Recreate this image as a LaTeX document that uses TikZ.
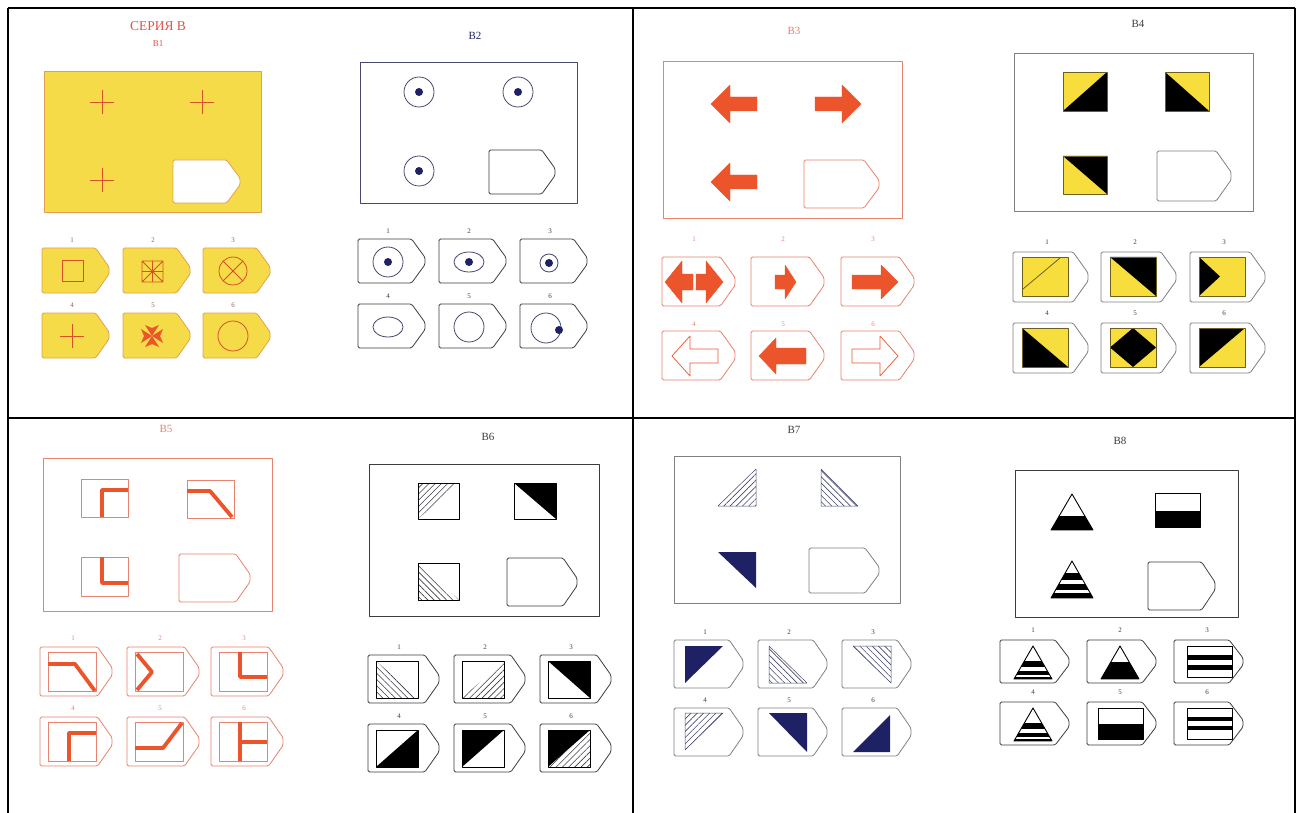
\documentclass[tikz,border=0pt]{standalone}
\usepackage{fontspec}
\setmainfont{Liberation Serif}
\usetikzlibrary{patterns.meta}

\definecolor{ylwfill}{RGB}{245,219,72}
\definecolor{ylwedge}{RGB}{226,160,80}
\definecolor{redsym}{RGB}{214,80,40}
\definecolor{titlered}{RGB}{222,84,72}
\definecolor{numbrown}{RGB}{150,100,70}
\definecolor{navy}{RGB}{30,34,100}
\definecolor{bluegray}{RGB}{70,72,110}
\definecolor{salmon}{RGB}{232,130,110}
\definecolor{orangered}{RGB}{236,84,44}
\definecolor{sqylw}{RGB}{247,222,60}
\definecolor{olive}{RGB}{110,95,30}
\definecolor{darktext}{RGB}{60,60,60}
\definecolor{hatchgray}{RGB}{60,60,70}

% tag card with a blunt point on the right
\newcommand\tagbox[5][]{%
  \draw[#1] ({#2},{#3}) -- ({#2+0.8*(#4-#2)},{#3}) -- ({#4},{#3+0.42*(#5-#3)})
    -- ({#4},{#3+0.58*(#5-#3)}) -- ({#2+0.8*(#4-#2)},{#5}) -- ({#2},{#5}) -- cycle;}
% block arrow: tail x, tip x, y, head base x, head half, shaft half
\newcommand\arrowshape[7][]{%
  \draw[#1] (#2,{#4-#7}) -- (#5,{#4-#7}) -- (#5,{#4-#6}) -- (#3,#4)
    -- (#5,{#4+#6}) -- (#5,{#4+#7}) -- (#2,{#4+#7}) -- cycle;}
% corner coordinates of a square
\newcommand\corners[5]{%
  \coordinate (#1tl) at (#2,#3); \coordinate (#1tr) at (#4,#3);
  \coordinate (#1br) at (#4,#5); \coordinate (#1bl) at (#2,#5);}
% yellow square with a black part
\newcommand\ysquare[6]{%
  \corners{#1}{#2}{#3}{#4}{#5}
  \fill[sqylw] (#1tl) rectangle (#1br);
  \fill[black] #6;
  \draw[olive,line width=0.6pt] (#1tl) rectangle (#1br);}
% triangle and rectangle with black bands
\newcommand\stripetri[5]{%
  \begin{scope}
    \clip (#1,#2) -- ({#1+#4},#3) -- ({#1-#4},#3) -- cycle;
    \foreach \ba/\bb in {#5} \fill[black] ({#1-#4},\ba) rectangle ({#1+#4},\bb);
  \end{scope}
  \draw[line width=0.9pt] (#1,#2) -- ({#1+#4},#3) -- ({#1-#4},#3) -- cycle;}
\newcommand\striperect[5]{%
  \foreach \ba/\bb in {#5} \fill[black] (#1,\ba) rectangle (#3,\bb);
  \draw[line width=0.9pt] (#1,#2) rectangle (#3,#4);}

\begin{document}
\begin{tikzpicture}[x=1pt,y=-1pt,line join=round,
  grid/.style={line width=1.3pt,black},
  lbl/.style={inner sep=0pt,font=\fontsize{11}{11}\selectfont},
  num/.style={inner sep=0pt,font=\fontsize{7}{7}\selectfont},
  tagw/.style={fill=white,line width=0.8pt,rounded corners=1.5pt},
  ylwtag/.style={fill=ylwfill,draw=ylwedge,line width=0.8pt,rounded corners=1.5pt},
  b1sym/.style={redsym,line width=0.8pt},
  ring/.style={bluegray,line width=0.8pt},
  arrfill/.style={fill=orangered,draw=orangered,line width=0.4pt},
  arropen/.style={fill=white,draw=orangered,line width=0.7pt},
  bar/.style={orangered,line width=3.8pt},
  sqedge/.style={black,line width=0.7pt},
  hatchNE/.style={pattern={Lines[angle=45,distance=4.4pt,line width=0.6pt]},pattern color=#1},
  hatchNW/.style={pattern={Lines[angle=-45,distance=4.4pt,line width=0.6pt]},pattern color=#1}]
\useasboundingbox (0,0) rectangle (1296,813);

% table
\draw[grid] (8,8) -- (1295,8) (8,418) -- (1295,418);
\draw[grid] (8,8) -- (8,813) (633,8) -- (633,813) (1295,8) -- (1295,813);

% ---- B1
\node[lbl,text=titlered,font=\fontsize{13.5}{13.5}\selectfont] (seria) at (158,26) {СЕРИЯ В};
\node[lbl,text=titlered,font=\fontsize{9}{9}\selectfont] (lblB1) at (158,44) {В1};
\draw[fill=ylwfill,draw=ylwedge,line width=0.8pt] (44,71) rectangle (261,212);
\foreach \cx/\cy in {102/102,202/102,102/180}
  \draw[b1sym] (\cx-12,\cy) -- (\cx+12,\cy) (\cx,\cy-12) -- (\cx,\cy+12);
\tagbox[tagw,draw=ylwedge]{173}{160}{240}{203}
\foreach \xa/\ya/\n in {42/248/1,123/248/2,203/248/3,42/313/4,123/313/5,203/313/6}{
  \tagbox[ylwtag]{\xa}{\ya}{\xa+67}{\ya+45}
  \node[num,text=numbrown] (b1n\n) at (\xa+30,\ya-8) {\n};
}
\draw[b1sym] (62,260) rectangle (83,281);
\draw[b1sym] (142,261) rectangle (163,282) (142,261) -- (163,282) (163,261) -- (142,282)
  (152.5,261) -- (152.5,282) (142,271.5) -- (163,271.5);
\draw[b1sym] (233,271) circle (14) (223.1,261.1) -- (242.9,280.9) (242.9,261.1) -- (223.1,280.9);
\draw[b1sym] (60,336) -- (84,336) (72,324) -- (72,348);
\foreach \a in {0,90,180,270}
  \fill[orangered,shift={(152,336)},rotate=\a] (0,0) -- (11,-7) -- (8,0) -- (11,7) -- cycle;
\draw[b1sym] (233,336) circle (15);

% ---- B2
\node[lbl,text=navy] (lblB2) at (475,36) {В2};
\draw[bluegray,line width=0.8pt] (360,62) rectangle (577,203);
\foreach \cx/\cy in {419/92,518/92,419/171}{
  \draw[ring] (\cx,\cy) circle (15);
  \fill[navy] (\cx,\cy) circle (4);
}
\tagbox[tagw,draw=darktext]{489}{150}{555}{194}
\foreach \xa/\ya/\n in {358/239/1,439/239/2,520/239/3,358/304/4,439/304/5,520/304/6}{
  \tagbox[tagw,draw=darktext]{\xa}{\ya}{\xa+67}{\ya+44}
  \node[num,text=darktext] (b2n\n) at (\xa+30,\ya-8) {\n};
}
\draw[ring] (388,262) circle (15); \fill[navy] (388,262) circle (4);
\draw[ring] (469,262) ellipse [x radius=15,y radius=10]; \fill[navy] (469,262) circle (4);
\draw[ring] (549,263) circle (9); \fill[navy] (549,263) circle (4);
\draw[ring] (388,327) ellipse [x radius=15,y radius=10];
\draw[ring] (469,327) circle (15);
\draw[ring] (546,328) circle (15); \fill[navy] (559,330) circle (4);

% ---- B3
\node[lbl,text=salmon] (lblB3) at (794,31) {В3};
\draw[salmon,line width=0.8pt] (663,61) rectangle (902,218);
\arrowshape[arrfill]{757}{711}{104}{730}{19}{7}
\arrowshape[arrfill]{815}{861}{104}{842}{19}{7}
\arrowshape[arrfill]{757}{711}{182}{730}{19}{7}
\tagbox[tagw,draw=salmon]{804}{160}{879}{208}
\foreach \xa/\ya/\ny/\n in {662/257/239/1,751/257/239/2,841/257/239/3,662/331/324/4,751/331/324/5,841/331/324/6}{
  \tagbox[tagw,draw=salmon]{\xa}{\ya}{\xa+73}{\ya+49}
  \node[num,text=salmon] (b3n\n) at (\xa+32,\ny) {\n};
}
\arrowshape[arrfill]{693}{665}{282}{682}{21}{8}
\arrowshape[arrfill]{696}{723}{282}{706}{21}{8}
\arrowshape[arrfill]{775}{796}{282}{785}{17}{7}
\arrowshape[arrfill]{852}{898}{282}{881}{17}{7}
\arrowshape[arropen]{718}{672}{356}{690}{20}{7}
\arrowshape[arrfill]{806}{759}{356}{776}{18}{8}
\arrowshape[arropen]{852}{898}{356}{880}{20}{7}

% ---- B4
\node[lbl,text=darktext] (lblB4) at (1138,24) {В4};
\draw[gray,line width=0.9pt] (1014,53) rectangle (1253,211);
\ysquare{qa}{1063}{72}{1107}{111}{(qabl) -- (qatr) -- (qabr) -- cycle}
\ysquare{qb}{1165}{72}{1209}{111}{(qbtl) -- (qbbr) -- (qbbl) -- cycle}
\ysquare{qc}{1063}{156}{1107}{194}{(qctl) -- (qctr) -- (qcbr) -- cycle}
\tagbox[tagw,draw=gray]{1157}{151}{1231}{201}
\foreach \xa/\ya/\n in {1013/252/1,1101/252/2,1190/252/3,1013/323/4,1101/323/5,1190/323/6}{
  \tagbox[tagw,draw=gray]{\xa}{\ya}{\xa+75}{\ya+50}
  \node[num,text=darktext] (b4n\n) at (\xa+34,\ya-10) {\n};
}
\ysquare{pa}{1022}{257}{1068}{296}{(patl) -- (patl)}
\draw[olive,line width=0.8pt] (1023,289) -- (1060,258);
\ysquare{pb}{1110}{257}{1156}{296}{(pbtl) -- (pbtr) -- (pbbr) -- cycle}
\ysquare{pc}{1199}{257}{1245}{296}{(pctl) -- (1220,276.5) -- (pcbl) -- cycle}
\ysquare{pd}{1022}{328}{1068}{367}{(pdtl) -- (pdbr) -- (pdbl) -- cycle}
\ysquare{pe}{1110}{328}{1156}{367}{(1133,328) -- (1156,347.5) -- (1133,367) -- (1110,347.5) -- cycle}
\ysquare{pf}{1199}{328}{1245}{367}{(pftl) -- (pftr) -- (pfbl) -- cycle}

% ---- B5
\node[lbl,text=salmon] (lblB5) at (166,429) {В5};
\draw[salmon,line width=0.8pt] (43,458) rectangle (272,611);
\draw[salmon,line width=0.7pt] (81,479) rectangle (128,517) (187,480) rectangle (234,518) (81,557) rectangle (128,596);
\draw[bar] (102,517) -- (102,490) -- (128,490);
\draw[bar] (187,491) -- (210,491) -- (232,517);
\draw[bar] (102,557) -- (102,583) -- (128,583);
\tagbox[tagw,draw=salmon]{179}{554}{250}{602}
\foreach \xa/\ya/\n in {40/647/1,127/647/2,211/647/3,40/717/4,127/717/5,211/717/6}{
  \tagbox[tagw,draw=salmon]{\xa}{\ya}{\xa+72}{\ya+49}
  \node[num,text=salmon] (b5n\n) at (\xa+33,\ya-9) {\n};
  \draw[salmon,line width=0.7pt] (\xa+8,\ya+5) rectangle (\xa+56,\ya+44);
}
\draw[bar] (48,664) -- (75,664) -- (95,691);
\draw[bar] (137,654) -- (152,672) -- (137,690);
\draw[bar] (240,652) -- (240,677) -- (267,677);
\draw[bar] (69,761) -- (69,733) -- (96,733);
\draw[bar] (135,748) -- (163,748) -- (182,723);
\draw[bar] (240,722) -- (240,761) (240,742) -- (267,742);

% ---- B6
\node[lbl,text=darktext] (lblB6) at (488,437) {В6};
\draw[darktext,line width=0.9pt] (369,464) rectangle (599,616);
\corners{sa}{418}{483}{459}{519}
\fill[hatchNE=hatchgray] (satl) -- (satr) -- (sabl) -- cycle;
\draw[sqedge] (satl) rectangle (sabr);
\corners{sb}{514}{483}{556}{519}
\fill[black] (sbtl) -- (sbtr) -- (sbbr) -- cycle;
\draw[sqedge] (sbtl) rectangle (sbbr);
\corners{sc}{418}{563}{459}{600}
\fill[hatchNW=hatchgray] (sctl) -- (scbr) -- (scbl) -- cycle;
\draw[sqedge] (sctl) rectangle (scbr);
\tagbox[tagw,draw=darktext]{507}{558}{577}{606}
\foreach \xa/\ya/\n in {368/655/1,454/655/2,540/655/3,368/724/4,454/724/5,540/724/6}{
  \tagbox[tagw,draw=darktext]{\xa}{\ya}{\xa+71}{\ya+48}
  \node[num,text=darktext] (b6n\n) at (\xa+31,\ya-8) {\n};
}
\corners{ta}{376}{661}{418}{698}
\fill[hatchNW=hatchgray] (tatl) -- (tabr) -- (tabl) -- cycle;
\corners{tb}{462}{661}{504}{698}
\fill[hatchNE=hatchgray] (tbbl) -- (tbtr) -- (tbbr) -- cycle;
\corners{tc}{548}{661}{590}{698}
\fill[black] (tctl) -- (tctr) -- (tcbr) -- cycle;
\corners{td}{376}{730}{418}{767}
\fill[black] (tdbl) -- (tdtr) -- (tdbr) -- cycle;
\corners{te}{462}{730}{504}{767}
\fill[black] (tetl) -- (tetr) -- (tebl) -- cycle;
\corners{tf}{548}{730}{590}{767}
\fill[black] (tftl) -- (tftr) -- (tfbl) -- cycle;
\fill[hatchNE=hatchgray] (tfbl) -- (tftr) -- (tfbr) -- cycle;
\foreach \s in {ta,tb,tc,td,te,tf}
  \draw[sqedge] (\s tl) rectangle (\s br);

% ---- B7
\node[lbl,text=darktext] (lblB7) at (794,430) {В7};
\draw[gray,line width=0.9pt] (674,456) rectangle (900,603);
\draw[hatchNE=bluegray,draw=bluegray,line width=0.5pt] (718,506) -- (756,469) -- (756,506) -- cycle;
\draw[hatchNW=bluegray,draw=bluegray,line width=0.5pt] (821,469) -- (821,506) -- (858,506) -- cycle;
\fill[navy] (718,552) -- (756,552) -- (756,588) -- cycle;
\tagbox[tagw,draw=gray]{809}{548}{879}{593}
\foreach \xa/\ya/\n in {674/640/1,758/640/2,842/640/3,674/708/4,758/708/5,842/708/6}{
  \tagbox[tagw,draw=gray]{\xa}{\ya}{\xa+69}{\ya+48}
  \node[num,text=darktext] (b7n\n) at (\xa+31,\ya-8) {\n};
}
\fill[navy] (685,646) -- (723,646) -- (685,683) -- cycle;
\draw[hatchNW=bluegray,draw=bluegray,line width=0.5pt] (769,646) -- (769,683) -- (807,683) -- cycle;
\draw[hatchNW=bluegray,draw=bluegray,line width=0.5pt] (853,646) -- (891,646) -- (891,683) -- cycle;
\draw[hatchNE=bluegray,draw=bluegray,line width=0.5pt] (685,713) -- (723,713) -- (685,750) -- cycle;
\fill[navy] (769,713) -- (807,713) -- (807,752) -- cycle;
\fill[navy] (853,752) -- (890,715) -- (890,752) -- cycle;

% ---- B8
\node[lbl,text=darktext] (lblB8) at (1120,441) {В8};
\draw[darktext,line width=0.9pt] (1015,470) rectangle (1238,617);
\stripetri{1072}{494}{530}{21}{516/530}
\striperect{1155}{493}{1200}{527}{511/527}
\stripetri{1072}{561}{598}{21}{573/580,584/590,593/598}
\tagbox[tagw,draw=darktext]{1148}{562}{1215}{610}
\foreach \xa/\ya/\n in {1000/640/1,1087/640/2,1174/640/3,1000/702/4,1087/702/5,1174/702/6}{
  \tagbox[tagw,draw=darktext]{\xa}{\ya}{\xa+69}{\ya+43}
  \node[num,text=darktext] (b8n\n) at (\xa+33,\ya-10) {\n};
}
\stripetri{1033}{646}{679}{19}{661/667,671/675,677/679}
\stripetri{1120}{646}{679}{19}{662/679}
\striperect{1187}{646}{1232}{677}{655/660,665/670}
\stripetri{1033}{708}{741}{19}{723/729,733/737,739/741}
\striperect{1098}{708}{1143}{739}{724/739}
\striperect{1187}{708}{1232}{739}{717/721,726/730}
\end{tikzpicture}
\end{document}
